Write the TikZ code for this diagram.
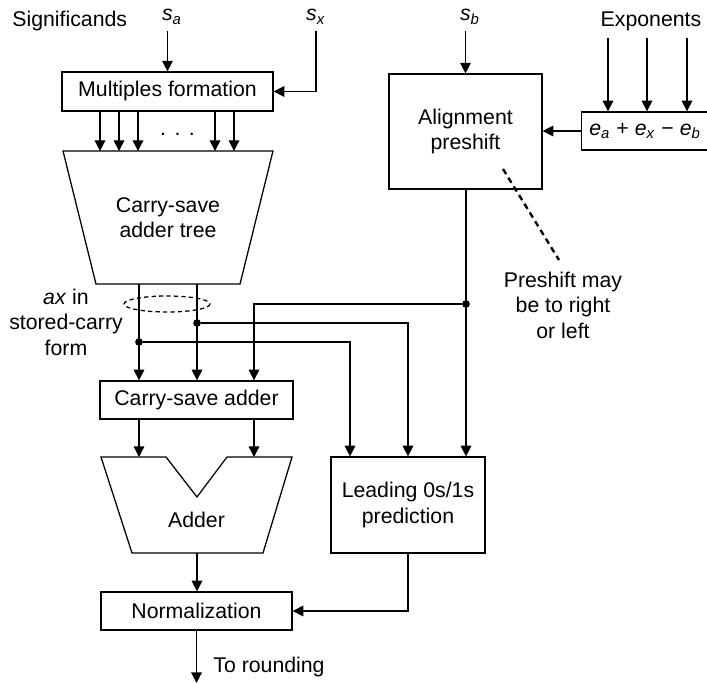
\documentclass[tikz,border=0pt]{standalone}
\usepackage{fontspec}
\setmainfont{Liberation Sans}
\usetikzlibrary{arrows.meta}

\newcommand{\varsub}[2]{\textit{#1}\textsubscript{\textit{#2}}}

\begin{document}
\begin{tikzpicture}[
  x=0.47pt, y=-0.47pt,
  every node/.style={font=\fontsize{10}{12}\selectfont},
  block/.style={
    draw=black, line width=0.6pt,
    align=center, inner sep=0pt, fill=white
  },
  lbl/.style={align=center, inner sep=0pt},
  inp/.style={inner sep=3pt, anchor=base},
  wire/.style={line width=0.6pt},
  arr/.style={-{Triangle[length=5pt,width=5pt]}, line width=0.6pt},
  tap/.style={circle, fill=black, inner sep=0pt, minimum size=3.6pt}
]
  \useasboundingbox (0,0) rectangle (707,683);

  % Inputs
  \node[lbl, anchor=base west] (sig) at (12,27) {Significands};
  \node[inp] (sa) at (172,21) {\varsub{s}{a}};
  \node[inp] (sx) at (316,21) {\varsub{s}{x}};
  \node[inp] (sb) at (470,21) {\varsub{s}{b}};
  \node[inp] (expl) at (651,27) {Exponents};

  % Blocks
  \node[block, minimum width=99.2pt, minimum height=18.3pt] (mult) at (167.5,91.5) {Multiples formation};
  \node[block, minimum width=71.9pt, minimum height=54pt] (align) at (465.5,131.5) {Alignment\\preshift};
  \node[block, minimum width=59.7pt, minimum height=17.9pt, anchor=west] (expo) at (581,131)
    {\varsub{e}{a} + \varsub{e}{x} − \varsub{e}{b}};
  \node[block, minimum width=90.7pt, minimum height=17.9pt] (csa) at (196.5,400) {Carry-save adder};
  \node[block, minimum width=72.4pt, minimum height=45.1pt] (lead) at (408,505) {Leading 0s/1s\\prediction};
  \node[block, minimum width=89.8pt, minimum height=17.9pt] (norm) at (196.5,611) {Normalization};

  % Carry-save adder tree
  \draw[wire] (63,151) -- (273,151) -- (240,284) -- (96,284) -- cycle;
  \coordinate (treeTop) at (168,151);
  \coordinate (treeBot) at (168,284);
  \node[lbl] (tree) at (168,217.5) {Carry-save\\adder tree};

  % Adder
  \draw[wire] (101,457) -- (166,457) -- (197,497) -- (227,457) -- (292,457)
    -- (263,553) -- (132,553) -- cycle;
  \coordinate (addTop) at (197,457);
  \coordinate (addBot) at (197,553);
  \node[lbl] (add) at (196.5,520) {Adder};

  % Taps and columns
  \node[tap] (tapA) at (466,304) {};
  \node[tap] (tapB) at (197,323) {};
  \node[tap] (tapC) at (139,342) {};
  \coordinate (c3) at (254,0);
  \coordinate (c4) at (350,0);

  % Arrows
  \draw[arr] (sa.south -| mult.north) -- (mult.north);
  \draw[arr] (sx.south) |- (mult.east);
  \foreach \x in {100,119,138,215,234}
    \draw[arr] (\x,0 |- mult.south) -- (\x,0 |- treeTop);
  \node[lbl, anchor=base] (dots) at (177.5,136) {.\hspace{4pt}.\hspace{4pt}.};

  \draw[arr] (sb.south -| align.north) -- (align.north);
  \foreach \x in {608,647,687}
    \draw[arr] (\x,0 |- expl.south) -- (\x,0 |- expo.north);
  \draw[arr] (expo.west) -- (expo.west -| align.east);

  \draw[arr] (tapC |- treeBot) -- (tapC |- csa.north);
  \draw[arr] (tapB |- treeBot) -- (tapB |- csa.north);
  \draw[arr] (tapA |- align.south) -- (tapA |- lead.north);
  \draw[arr] (tapA) -| (c3 |- csa.north);
  \draw[arr] (tapB) -| (lead.north);
  \draw[arr] (tapC) -| (c4 |- lead.north);

  \draw[arr] (tapC |- csa.south) -- (tapC |- addTop);
  \draw[arr] (c3 |- csa.south) -- (c3 |- addTop);
  \draw[arr] (addBot) -- (addBot |- norm.north);
  \draw[arr] (lead.south) |- (norm.east);
  \coordinate (outEnd) at (196.5,683);
  \draw[arr] (norm.south) -- (outEnd);
  \node[lbl, anchor=west] (round) at (213,667) {To rounding};

  % Stored-carry note
  \draw[wire, dash pattern=on 2pt off 1.5pt] (167,304) ellipse [x radius=43, y radius=8];
  \node[lbl] (axnote) at (66,322) {\textit{ax} in\\stored-carry\\form};

  % Preshift note
  \coordinate (noteTip) at (503,169);
  \coordinate (noteEnd) at (559,260);
  \draw[line width=1.1pt, dash pattern=on 2.8pt off 2pt] (noteTip) -- (noteEnd);
  \node[lbl] (note) at (563,305) {Preshift may\\be to right\\or left};
\end{tikzpicture}
\end{document}
